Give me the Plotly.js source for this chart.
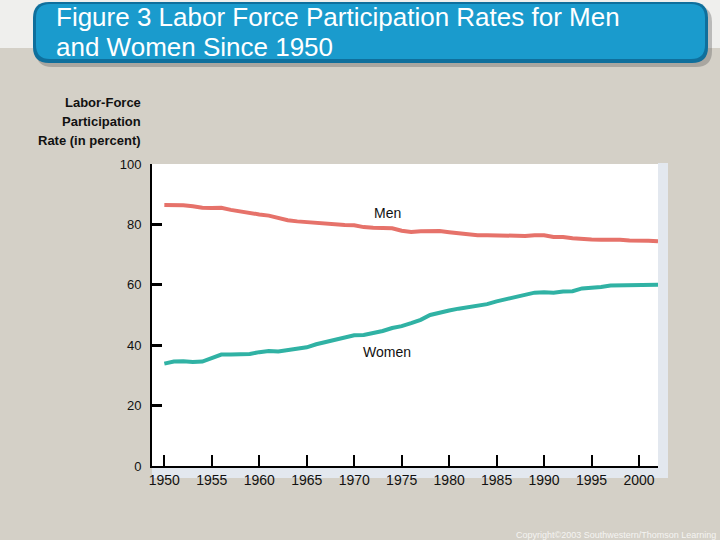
<!DOCTYPE html>
<html>
<head>
<meta charset="utf-8">
<script src="https://cdn.plot.ly/plotly-3.0.1.min.js"></script>
<style>html,body{margin:0;padding:0;background:#d4d0c7;}#chart{width:720px;height:540px;}</style>
</head>
<body>
<div id="chart"></div>
<script>
var years = [1950,1951,1952,1953,1954,1955,1956,1957,1958,1959,1960,1961,1962,1963,1964,1965,1966,1967,1968,1969,1970,1971,1972,1973,1974,1975,1976,1977,1978,1979,1980,1981,1982,1983,1984,1985,1986,1987,1988,1989,1990,1991,1992,1993,1994,1995,1996,1997,1998,1999,2000,2001,2002];
var men = [86.4,86.5,86.3,86.0,85.5,85.4,85.5,84.8,84.2,83.7,83.3,82.9,82.0,81.4,81.0,80.7,80.4,80.4,80.1,79.8,79.7,79.1,78.9,78.8,78.7,77.9,77.5,77.7,77.9,77.8,77.4,77.0,76.6,76.4,76.4,76.3,76.3,76.2,76.2,76.4,76.4,75.8,75.8,75.4,75.1,75.0,74.9,75.0,74.9,74.7,74.8,74.6,74.4];
var women = [33.9,34.6,34.7,34.4,34.6,35.7,36.9,36.9,37.1,37.1,37.7,38.1,37.9,38.3,38.7,39.3,40.3,41.1,41.6,42.7,43.3,43.4,43.9,44.7,45.7,46.3,47.3,48.4,50.0,50.9,51.5,52.1,52.6,52.9,53.6,54.5,55.3,56.0,56.6,57.4,57.5,57.4,57.8,57.9,58.8,58.9,59.3,59.8,59.8,60.0,59.9,60.1,60.0];
var xTicks = [1950,1955,1960,1965,1970,1975,1980,1985,1990,1995,2000];
var yTicks = [0,20,40,60,80,100];
var seriesNames = ["Men","Women"];
var titleLines = ["Figure 3 Labor Force Participation Rates for Men","and Women Since 1950"];
var yTitleLines = ["Labor-Force","Participation","Rate (in percent)"];
var copyright = "Copyright©2003 Southwestern/Thomson Learning";

// layout geometry (pixels)
var L = 152, R = 658, T = 164, B = 466;
function px(x){ return (x - L) / (R - L); }
function py(y){ return (B - y) / (B - T); }
function roundRect(x0,y0,x1,y1,r){
  var X0=px(x0),X1=px(x1),Y0=py(y0),Y1=py(y1);
  var rx=r/(R-L), ry=r/(B-T);
  return 'M'+(X0+rx)+','+Y0+' L'+(X1-rx)+','+Y0+' Q'+X1+','+Y0+' '+X1+','+(Y0-ry)+
    ' L'+X1+','+(Y1+ry)+' Q'+X1+','+Y1+' '+(X1-rx)+','+Y1+' L'+(X0+rx)+','+Y1+
    ' Q'+X0+','+Y1+' '+X0+','+(Y1+ry)+' L'+X0+','+(Y0-ry)+' Q'+X0+','+Y0+' '+(X0+rx)+','+Y0+' Z';
}

var traces = [
  {x: years, y: men, mode:'lines', name: seriesNames[0], line:{color:'#e6726a', width:4}, hoverinfo:'skip'},
  {x: years, y: women, mode:'lines', name: seriesNames[1], line:{color:'#30b2a4', width:4}, hoverinfo:'skip'}
];

var shapes = [
  {type:'rect', xref:'paper', yref:'paper', x0:px(-5), x1:px(725), y0:py(-5), y1:py(48), fillcolor:'#efefed', line:{width:0}, layer:'below'},
  {type:'rect', xref:'paper', yref:'paper', x0:px(R), x1:px(668), y0:py(163), y1:py(478), fillcolor:'#e3e8ef', line:{width:0}, layer:'below'},
  {type:'rect', xref:'paper', yref:'paper', x0:px(L), x1:px(668), y0:py(B), y1:py(478), fillcolor:'#e3e8ef', line:{width:0}, layer:'below'},
  {type:'path', xref:'paper', yref:'paper', path: roundRect(36,6,712,67,16), fillcolor:'rgba(90,90,90,0.35)', line:{width:0}, layer:'below'},
  {type:'path', xref:'paper', yref:'paper', path: roundRect(33,2,708,63,16), fillcolor:'#0f6f9c', line:{width:0}, layer:'below'},
  {type:'path', xref:'paper', yref:'paper', path: roundRect(36,4,705,59,14), fillcolor:'#1a9bcd', line:{width:0}, layer:'below'}
];

var tf = {family:'Arial, Liberation Sans', size:26, color:'#ffffff'};
var af = {family:'Arial, Liberation Sans', size:13, color:'#111111'};
var annotations = [
  {xref:'paper', yref:'paper', x:px(54), y:py(17), xanchor:'left', yanchor:'middle', text:titleLines[0], showarrow:false, font:tf},
  {xref:'paper', yref:'paper', x:px(54), y:py(47), xanchor:'left', yanchor:'middle', text:titleLines[1], showarrow:false, font:tf},
  {xref:'paper', yref:'paper', x:px(143), y:py(102), xanchor:'right', yanchor:'middle', text:'<b>'+yTitleLines[0]+'</b>', showarrow:false, font:af},
  {xref:'paper', yref:'paper', x:px(143), y:py(121), xanchor:'right', yanchor:'middle', text:'<b>'+yTitleLines[1]+'</b>', showarrow:false, font:af},
  {xref:'paper', yref:'paper', x:px(143), y:py(140), xanchor:'right', yanchor:'middle', text:'<b>'+yTitleLines[2]+'</b>', showarrow:false, font:af},
  {xref:'x', yref:'y', x:1973.5, y:83.8, text:seriesNames[0], showarrow:false, font:{family:'Arial, Liberation Sans', size:14, color:'#111111'}},
  {xref:'x', yref:'y', x:1973.5, y:37.9, text:seriesNames[1], showarrow:false, font:{family:'Arial, Liberation Sans', size:14, color:'#111111'}},
  {xref:'paper', yref:'paper', x:px(718), y:py(535), xanchor:'right', yanchor:'middle', text:copyright, showarrow:false, font:{family:'Arial, Liberation Sans', size:9, color:'#f4f4f2'}}
];

var layout = {
  width:720, height:540,
  margin:{l:L, r:720-R, t:T, b:540-B, pad:0},
  paper_bgcolor:'#d4d0c7',
  plot_bgcolor:'#ffffff',
  showlegend:false,
  xaxis:{range:[1948.7,2002], tickvals:xTicks, ticktext:xTicks.map(String), ticks:'inside', ticklen:11, tickwidth:2, tickcolor:'#000000',
    showline:true, linecolor:'#000000', linewidth:2, showgrid:false, zeroline:false, fixedrange:true,
    tickfont:{family:'Arial, Liberation Sans', size:14, color:'#111111'}},
  yaxis:{range:[0,100], tickvals:yTicks, ticks:'inside', ticklen:10, tickwidth:3, tickcolor:'#000000',
    showline:true, linecolor:'#000000', linewidth:2, showgrid:false, zeroline:false, fixedrange:true,
    ticklabelstandoff:6,
    tickfont:{family:'Arial, Liberation Sans', size:13, color:'#111111'}},
  shapes:shapes,
  annotations:annotations
};

Plotly.newPlot('chart', traces, layout, {displayModeBar:false, staticPlot:true});
</script>
</body>
</html>
